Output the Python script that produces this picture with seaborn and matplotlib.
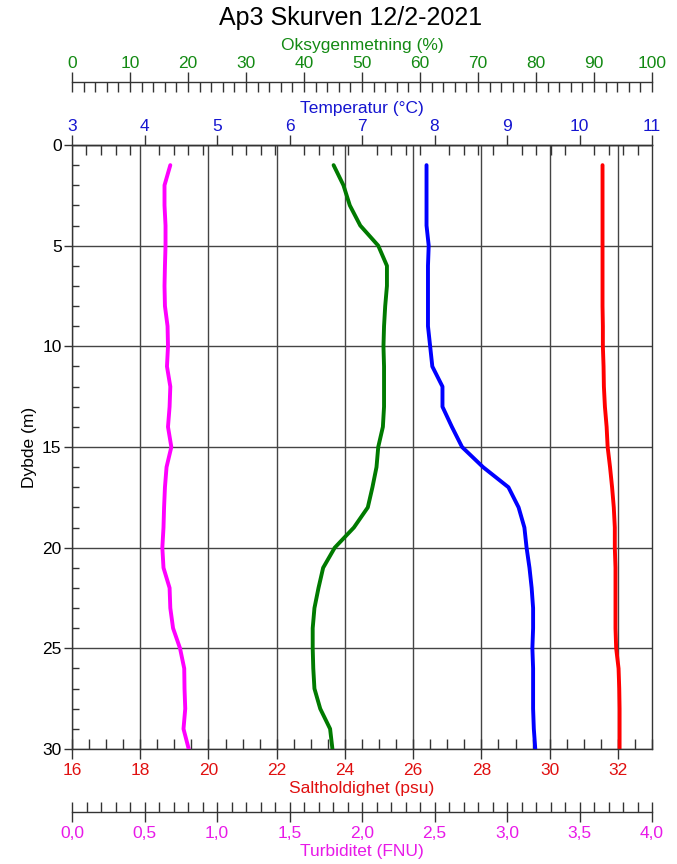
import matplotlib
matplotlib.use("Agg")
import matplotlib.pyplot as plt
import seaborn as sns
from matplotlib.ticker import MultipleLocator, FuncFormatter

# depth profile, station Ap3 Skurven 12/2-2021
depth = list(range(1, 31))
salinity = [31.55, 31.55, 31.55, 31.55, 31.55, 31.55, 31.55, 31.55, 31.56, 31.56,
            31.58, 31.59, 31.62, 31.67, 31.70, 31.77, 31.83, 31.88, 31.91, 31.91,
            31.93, 31.93, 31.93, 31.93, 31.95, 32.02, 32.04, 32.05, 32.05, 32.05]
temperature = [7.89, 7.89, 7.89, 7.89, 7.92, 7.91, 7.91, 7.91, 7.91, 7.94,
               7.97, 8.11, 8.11, 8.24, 8.38, 8.67, 9.02, 9.16, 9.24, 9.27,
               9.31, 9.34, 9.36, 9.36, 9.35, 9.36, 9.36, 9.36, 9.37, 9.39]
oxygen = [45.1, 46.8, 47.9, 49.7, 52.8, 54.3, 54.3, 54.0, 53.8, 53.7,
          53.8, 53.8, 53.8, 53.6, 52.8, 52.5, 51.8, 51.0, 48.6, 45.3,
          43.3, 42.5, 41.8, 41.5, 41.5, 41.6, 41.8, 42.8, 44.5, 44.9]
turbidity = [0.678, 0.638, 0.638, 0.645, 0.645, 0.641, 0.638, 0.641, 0.659, 0.662,
             0.655, 0.678, 0.673, 0.662, 0.685, 0.652, 0.641, 0.635, 0.631, 0.623,
             0.631, 0.673, 0.678, 0.697, 0.745, 0.774, 0.776, 0.781, 0.769, 0.805]

RED, BLUE, GREEN, MAG = "#ff0000", "#0000ff", "#007a00", "#ff00ff"
TXT_RED, TXT_BLUE, TXT_GREEN, TXT_MAG = "#e01010", "#1515d0", "#138a13", "#e81ae8"
AXC = "#333333"
FS = 12.5

sns.set_style("ticks")
plt.rcParams["font.family"] = ["Liberation Sans", "DejaVu Sans"]

fig = plt.figure(figsize=(6.77, 8.64), dpi=100)
ax = fig.add_axes([72 / 677, 1 - 749 / 864, 580 / 677, 604 / 864])
ax_t = ax.twiny()
ax_o = ax.twiny()
ax_f = ax.twiny()

lw = 2.8
sns.lineplot(x=turbidity, y=depth, orient="y", ax=ax_f, color=MAG, lw=lw)
sns.lineplot(x=oxygen, y=depth, orient="y", ax=ax_o, color=GREEN, lw=lw)
sns.lineplot(x=temperature, y=depth, orient="y", ax=ax_t, color=BLUE, lw=lw)
sns.lineplot(x=salinity, y=depth, orient="y", ax=ax, color=RED, lw=lw)

# main axes: salinity (bottom) + depth
ax.set_xlim(16, 33)
ax.set_ylim(30, 0)
ax.xaxis.set_major_locator(MultipleLocator(2))
ax.xaxis.set_minor_locator(MultipleLocator(0.5))
ax.yaxis.set_major_locator(MultipleLocator(5))
ax.yaxis.set_minor_locator(MultipleLocator(1))
ax.grid(True, which="major", color="#444444", lw=1)
ax.tick_params(axis="x", which="major", direction="inout", length=14, width=1,
               color=AXC, labelcolor=TXT_RED, labelsize=FS, pad=3)
ax.tick_params(axis="x", which="minor", direction="in", length=7, width=1, color=AXC)
ax.tick_params(axis="y", which="major", direction="out", length=5.5, width=1,
               color=AXC, labelcolor="black", labelsize=FS, pad=2)
ax.tick_params(axis="y", which="minor", direction="in", length=5, width=1, color=AXC,
               left=True)
ax.set_xlabel("Saltholdighet (psu)", color=TXT_RED, fontsize=FS, labelpad=2)
ax.set_ylabel("Dybde (m)", color="black", fontsize=FS, labelpad=4)
for s in ax.spines.values():
    s.set_color(AXC)
    s.set_linewidth(1)

# temperature (top)
ax_t.set_xlim(3, 11)
ax_t.xaxis.set_major_locator(MultipleLocator(1))
ax_t.xaxis.set_minor_locator(MultipleLocator(0.2))
ax_t.tick_params(axis="x", which="major", direction="out", length=7, width=1,
                 color=AXC, labelcolor=TXT_BLUE, labelsize=FS, pad=1)
ax_t.tick_params(axis="x", which="minor", direction="in", length=7, width=1, color=AXC)
ax_t.set_xlabel("Temperatur (°C)", color=TXT_BLUE, fontsize=FS, labelpad=4)

# oxygen saturation (top, offset)
ax_o.set_xlim(0, 100)
ax_o.xaxis.set_major_locator(MultipleLocator(10))
ax_o.xaxis.set_minor_locator(MultipleLocator(2))
ax_o.tick_params(axis="x", which="major", direction="inout", length=14, width=1,
                 color=AXC, labelcolor=TXT_GREEN, labelsize=FS, pad=1)
ax_o.tick_params(axis="x", which="minor", direction="in", length=7, width=1, color=AXC)
ax_o.set_xlabel("Oksygenmetning (%)", color=TXT_GREEN, fontsize=FS, labelpad=4)
ax_o.spines["top"].set_position(("outward", 45.4))

# turbidity (bottom, offset)
ax_f.set_xlim(0, 4)
ax_f.xaxis.set_ticks_position("bottom")
ax_f.xaxis.set_label_position("bottom")
ax_f.xaxis.set_major_locator(MultipleLocator(0.5))
ax_f.xaxis.set_minor_locator(MultipleLocator(0.1))
ax_f.xaxis.set_major_formatter(FuncFormatter(lambda v, _: f"{v:.1f}".replace(".", ",")))
ax_f.tick_params(axis="x", which="major", direction="inout", length=14, width=1,
                 color=AXC, labelcolor=TXT_MAG, labelsize=FS, pad=3)
ax_f.tick_params(axis="x", which="minor", direction="in", length=7, width=1, color=AXC)
ax_f.set_xlabel("Turbiditet (FNU)", color=TXT_MAG, fontsize=FS, labelpad=2)
ax_f.spines["bottom"].set_position(("outward", 45.4))

for a, keep in ((ax_t, "top"), (ax_o, "top"), (ax_f, "bottom")):
    for name, s in a.spines.items():
        s.set_visible(name == keep)
        s.set_color(AXC)
        s.set_linewidth(1)
    a.set_ylim(30, 0)

fig.text(351 / 677, 1 - 18 / 864, "Ap3 Skurven 12/2-2021", ha="center", va="center",
         fontsize=18, color="black")

fig.savefig("out.png", dpi=100, facecolor="white")
